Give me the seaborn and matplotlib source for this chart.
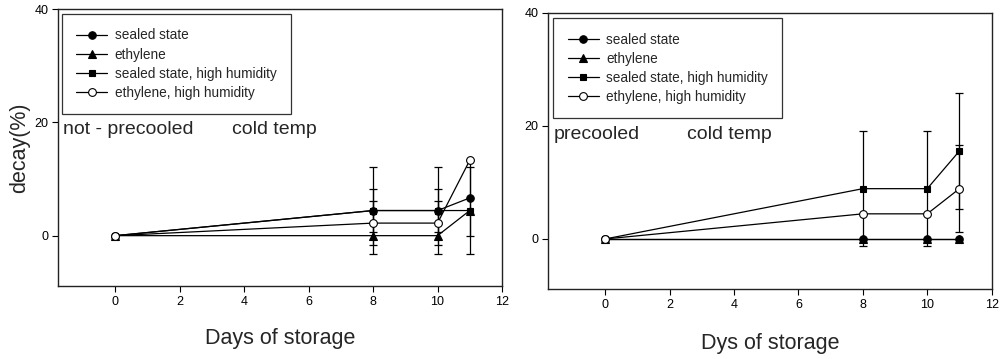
import numpy as np
import pandas as pd
import matplotlib
matplotlib.use("Agg")
import matplotlib.pyplot as plt
import seaborn as sns

sns.set_style("white")
plt.rcParams["font.family"] = ["Liberation Sans", "DejaVu Sans"]

# Storage days
days = [0, 8, 10, 11]
series_names = ["sealed state", "ethylene",
                "sealed state, high humidity", "ethylene, high humidity"]

# Not precooled, cold temperature: mean decay (%) and error
np_sealed = [0, 4.44, 4.44, 6.67]
np_ethylene = [0, 0, 0, 4.44]
np_sealed_hh = [0, 4.44, 4.44, 4.44]
np_ethylene_hh = [0, 2.22, 2.22, 13.33]
np_sealed_err = [0, 3.8, 3.8, 6.67]
np_ethylene_err = [0, 0, 0, 0]
np_sealed_hh_err = [0, 7.7, 7.7, 7.7]
np_ethylene_hh_err = [0, 3.85, 3.85, 0]

# Precooled, cold temperature
pc_sealed = [0, 0, 0, 0]
pc_ethylene = [0, 0, 0, 0]
pc_sealed_hh = [0, 8.89, 8.89, 15.56]
pc_ethylene_hh = [0, 4.44, 4.44, 8.89]
pc_sealed_err = [0, 0, 0, 0]
pc_ethylene_err = [0, 0, 0, 0]
pc_sealed_hh_err = [0, 10.2, 10.2, 10.2]
pc_ethylene_hh_err = [0, 0, 0, 7.7]

markers = ["o", "^", "s", "o"]
faces = ["black", "black", "black", "white"]
sizes = [5.4, 5.4, 5.0, 5.6]
zorders = [5, 3, 4, 6]


def build(vals, errs):
    rows = []
    for name, v, e in zip(series_names, vals, errs):
        for d, y, s in zip(days, v, e):
            rows.append({"day": d, "decay": y, "err": s, "series": name})
    return pd.DataFrame(rows)


df_np = build([np_sealed, np_ethylene, np_sealed_hh, np_ethylene_hh],
              [np_sealed_err, np_ethylene_err, np_sealed_hh_err, np_ethylene_hh_err])
df_pc = build([pc_sealed, pc_ethylene, pc_sealed_hh, pc_ethylene_hh],
              [pc_sealed_err, pc_ethylene_err, pc_sealed_hh_err, pc_ethylene_hh_err])

fig = plt.figure(figsize=(10.04, 3.59), dpi=100)
ax1 = fig.add_axes([0.0581, 0.2033, 0.5 - 0.0581, 0.974 - 0.2033])
ax2 = fig.add_axes([0.5461, 0.1942, 0.9877 - 0.5461, 0.9646 - 0.1942])


def draw(ax, df, legend_anchor):
    for name, m, fc, ms, z in zip(series_names, markers, faces, sizes, zorders):
        sub = df[df["series"] == name]
        nz = sub[sub["err"] > 0]
        if len(nz):
            ax.errorbar(nz["day"], nz["decay"], yerr=nz["err"], fmt="none",
                        ecolor="black", elinewidth=0.9, capsize=3.2,
                        capthick=0.9, zorder=2)
        sns.lineplot(data=sub, x="day", y="decay", ax=ax, color="black",
                     linewidth=0.9, marker=m, markersize=ms,
                     markerfacecolor=fc, markeredgecolor="black",
                     markeredgewidth=0.8, label=name, zorder=z,
                     errorbar=None, estimator=None)
    ax.set_xlim(-1.77, 12)
    ax.set_ylim(-8.9, 40)
    ax.set_xticks(range(0, 13, 2))
    ax.set_yticks([0, 20, 40])
    ax.tick_params(axis="both", which="major", direction="out", length=4,
                   width=0.8, labelsize=9, colors="black", pad=3,
                   bottom=True, left=True)
    for sp in ax.spines.values():
        sp.set_visible(True)
        sp.set_color("#222222")
        sp.set_linewidth(1.0)
    leg = ax.legend(loc="upper left", bbox_to_anchor=legend_anchor,
                    borderaxespad=0, frameon=True, fancybox=False,
                    fontsize=9.8, handlelength=2.3, handletextpad=0.55,
                    labelspacing=0.38, borderpad=1.05)
    leg.get_frame().set_edgecolor("black")
    leg.get_frame().set_linewidth(0.9)
    ax.set_ylabel("")


draw(ax1, df_np, (0.0077, 0.983))
draw(ax2, df_pc, (0.0113, 0.980))

ax1.text(-1.61, 18.8, "not - precooled", fontsize=14, ha="left", va="center")
ax1.text(3.61, 18.7, "cold temp", fontsize=14, ha="left", va="center")
ax2.text(-1.61, 18.4, "precooled", fontsize=14, ha="left", va="center")
ax2.text(2.55, 18.4, "cold temp", fontsize=14, ha="left", va="center")

ax1.set_xlabel("Days of storage", fontsize=15.5, va="center")
ax1.xaxis.set_label_coords(0.5, -0.188)
ax1.set_ylabel("decay(%)", fontsize=15.5, va="center")
ax1.yaxis.set_label_coords(-0.0863, 0.5)
ax2.set_xlabel("Dys of storage", fontsize=15.5, va="center")
ax2.xaxis.set_label_coords(0.5, -0.195)

fig.savefig("out.png", dpi=100)
